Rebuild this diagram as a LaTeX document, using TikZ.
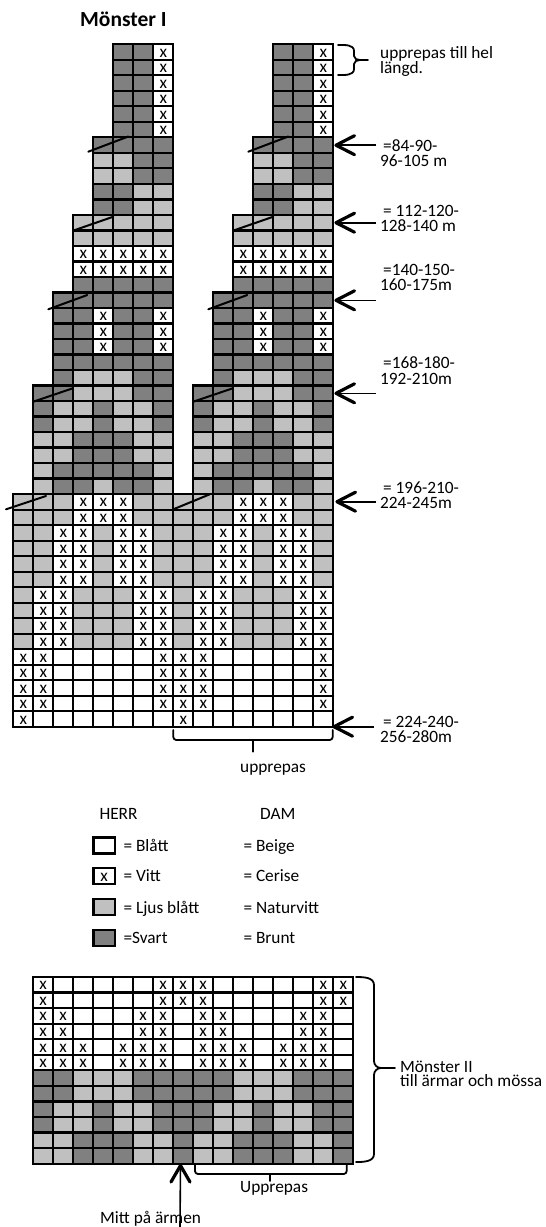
\documentclass[tikz,border=0pt]{standalone}
\usepackage{fontspec}
\setmainfont{Carlito}
\usetikzlibrary{calc}
\definecolor{dk}{RGB}{128,128,128}
\definecolor{lt}{RGB}{192,192,192}
\newcommand\lblfont{\fontsize{17.3}{15}\selectfont}
\tikzset{
  gridline/.style={line width=2.2pt, draw=black},
  lbl/.style={anchor=base west, inner sep=0pt, font=\lblfont},
  xmark/.style={anchor=base, inner sep=0pt, font=\lblfont},
  titlestyle/.style={anchor=base west, inner sep=0pt, font=\bfseries\fontsize{21.5}{24}\selectfont},
  shaft/.style={line width=1.6pt},
  barb/.style={line width=3.2pt, line cap=round, line join=round},
  bracestyle/.style={line width=1.8pt, line cap=round, line join=round},
  slash/.style={line width=2pt, line cap=round},
  legbox/.style={line width=2.6pt, draw=black},
}
\newcommand\cellat[1]{%
  \if#1D\fill[dk] (\curx,\cury) rectangle ++(\cellw,\cellh);\fi
  \if#1L\fill[lt] (\curx,\cury) rectangle ++(\cellw,\cellh);\fi
  \if#1X\fill[white] (\curx,\cury) rectangle ++(\cellw,\cellh);\fi
  \if#1o\else\draw[gridline] (\curx,\cury) rectangle ++(\cellw,\cellh);\fi
  \if#1X\node[xmark] at ($(\curx,\cury)+(0.5*\cellw,\cellh-2.7)$) {x};\fi
}
\def\rowloop#1{\ifx#1\end\else\cellat{#1}\pgfmathsetmacro\curx{\curx+\cellw}\expandafter\rowloop\fi}
\newcommand\annarrow[4]{% name, y, tip x, end x
  \coordinate (#1s) at (#4,#2);
  \coordinate (#1t) at (#3,#2);
  \draw[shaft] (#1s) -- (#1t);
  \draw[barb] ($(#1t)+(18.5,-9.5)$) -- (#1t) -- ($(#1t)+(18.5,9.5)$);
}
\begin{document}
\begin{tikzpicture}[x=1pt,y=-1pt]
\useasboundingbox (0,0) rectangle (546,1227);
\fill[white] (0,0) rectangle (546,1227);
\node[titlestyle] (title) at (80,26) {Mönster I};
% ---------- Mönster I chart ----------
\def\cellw{20}\def\cellh{15.51}
\foreach \r/\pat in {1/oooooDDX,2/oooooDDX,3/oooooDDX,4/oooooDDX,5/oooooDDX,6/oooooDDX,
  7/ooooDDDD,8/ooooLLDD,9/ooooLLDD,10/ooooDDLL,11/ooooDDLL,
  12/oooLLLLL,13/oooLLLLL,14/oooXXXXX,15/oooXXXXX,16/oooDDDDD,
  17/ooDDDDDD,18/ooDDXDDX,19/ooDDXDDX,20/ooDDXDDX,21/ooDDDDDD,22/ooDLLLDD,
  23/oDDLLLDD,24/oDLLDLLD,25/oDLLDLLD,26/oLLDDDLL,27/oLLDDDLL,28/oLDDDDDL,29/oLDDLDDL,
  30/LLLXXXLL,31/LLLXXXLL,32/LLXXLXXL,33/LLXXLXXL,34/LLXXLXXL,35/LLXXLXXL,
  36/LXXLLLXX,37/LXXLLLXX,38/LXXLLLXX,39/LXXLLLXX,
  40/XXWWWWWX,41/XXWWWWWX,42/XXWWWWWX,43/XXWWWWWX,44/XWWWWWWW}{
  \pgfmathsetmacro\cury{44.3+15.51*(\r-1)}
  \def\curx{13.3}\expandafter\rowloop\pat\end
  \def\curx{173.3}\expandafter\rowloop\pat\end
}
% slashes
\draw[slash] (88.3,151.7) -- (128.3,136.5);
\draw[slash] (248.3,151.7) -- (288.3,136.5);
\draw[slash] (75,230) -- (113.3,216.7);
\draw[slash] (235,230) -- (273.3,216.7);
\draw[slash] (48.3,309.3) -- (87.3,295);
\draw[slash] (208.3,309.3) -- (247.3,295);
\draw[slash] (33.3,401.7) -- (72.7,388.3);
\draw[slash] (193.3,401.7) -- (232.7,388.3);
\draw[slash] (6,509.3) -- (46,496);
\draw[slash] (173.3,509.3) -- (209.3,494.5);
% top brace
\draw[bracestyle] (338,45) to[out=0,in=90] (354,51) -- (354,56) to[out=-90,in=180] (360,60) -- (368,60);
\draw[bracestyle] (338,75) to[out=0,in=-90] (354,69) -- (354,64) to[out=90,in=180] (360,60);
\node[lbl] (rep1) at (380,58) {upprepas till hel};
\node[lbl] (rep2) at (380,73) {längd.};
% arrows and labels
\annarrow{a1}{145.2}{336}{376}
\annarrow{a2}{222.7}{336}{376}
\annarrow{a3}{300.3}{336}{376}
\annarrow{a4}{393.3}{336}{376}
\annarrow{a5}{501.7}{337}{376}
\annarrow{a6}{726.7}{334}{374}
\node[lbl] (l1a) at (383,151.5) {=84-90-};
\node[lbl] (l1b) at (380,166.5) {96-105 m};
\node[lbl] (l2a) at (383,216) {= 112-120-};
\node[lbl] (l2b) at (380,231) {128-140 m};
\node[lbl] (l3a) at (383,275) {=140-150-};
\node[lbl] (l3b) at (380,290) {160-175m};
\node[lbl] (l4a) at (383,368.5) {=168-180-};
\node[lbl] (l4b) at (380,384) {192-210m};
\node[lbl] (l5a) at (383,493) {= 196-210-};
\node[lbl] (l5b) at (380,508) {224-245m};
\node[lbl] (l6a) at (383,727) {= 224-240-};
\node[lbl] (l6b) at (380,742) {256-280m};
% upprepas bracket (top chart)
\draw[bracestyle, rounded corners=3pt] (173.3,730) -- (173.3,740) -- (332.7,740) -- (332.7,730);
\draw[bracestyle] (252.7,740) -- (252.7,751.7);
\node[lbl] (upp1) at (240,772.3) {upprepas};
% ---------- legend ----------
\node[lbl] (herr) at (99.3,819.3) {HERR};
\node[lbl] (dam) at (260,819.3) {DAM};
\draw[legbox, fill=white] (93.3,837.3) rectangle (115,853.3);
\draw[legbox, fill=white] (93.3,868) rectangle (115,884);
\node[xmark] (legx) at (104.2,881.3) {x};
\draw[legbox, fill=lt] (93.3,899) rectangle (115,915);
\draw[legbox, fill=dk] (93.3,930) rectangle (115,946);
\node[lbl] (k1) at (123.3,851.7) {= Blått};
\node[lbl] (k2) at (123.3,881.7) {= Vitt};
\node[lbl] (k3) at (123.3,913.3) {= Ljus blått};
\node[lbl] (k4) at (123.3,943.3) {=Svart};
\node[lbl] (d1) at (243.3,851.7) {= Beige};
\node[lbl] (d2) at (243.3,881.7) {= Cerise};
\node[lbl] (d3) at (243.3,913.3) {= Naturvitt};
\node[lbl] (d4) at (243.3,943.3) {= Brunt};
% ---------- Mönster II chart ----------
\def\cellw{20.02}\def\cellh{15.55}
\foreach \r/\pat in {1/XWWWWWXX,2/XWWWWWXX,3/XXWWWXXW,4/XXWWWXXW,5/XXXWXXXW,6/XXXWXXXW,
  7/DDLLLDDD,8/DDLLLDDD,9/DLLDLLDD,10/DLLDLLDD,11/LLDDDLLD,12/LLDDDLLD}{
  \pgfmathsetmacro\cury{977+15.55*(\r-1)}
  \def\curx{33}\expandafter\rowloop\pat\end
  \def\curx{193.16}\expandafter\rowloop\pat\end
}
% right brace
\draw[bracestyle] (356,977) to[out=0,in=90] (374,985) -- (374,1061) to[out=-90,in=180] (381,1068) -- (395,1068);
\draw[bracestyle] (356,1162) to[out=0,in=-90] (374,1154) -- (374,1075) to[out=90,in=180] (381,1068);
\node[lbl] (m2a) at (400,1072) {Mönster II};
\node[lbl] (m2b) at (400,1086.5) {till ärmar och mössa};
% Upprepas bracket
\draw[bracestyle, rounded corners=3pt] (195,1164) -- (195,1174) -- (346.7,1174) -- (346.7,1164);
\draw[bracestyle] (270,1174) -- (270,1181);
\node[lbl] (upp2) at (240,1192.7) {Upprepas};
% Mitt på ärmen
\node[lbl] (mitt) at (100,1223) {Mitt på ärmen};
\coordinate (mas) at (180,1227);
\coordinate (mat) at (180.5,1165.5);
\draw[shaft] (mas) -- (mat);
\draw[barb] ($(mat)+(-9.5,16.5)$) -- (mat) -- ($(mat)+(9.5,16.5)$);
\end{tikzpicture}
\end{document}
